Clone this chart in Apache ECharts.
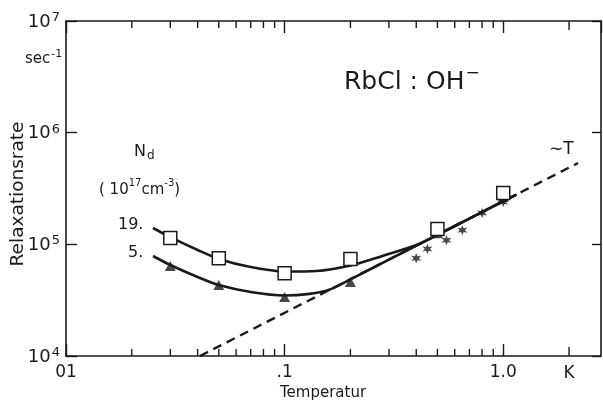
<!DOCTYPE html>
<html><head><meta charset="utf-8">
<script src="https://cdn.jsdelivr.net/npm/echarts@6/dist/echarts.min.js"></script>
<style>html,body{margin:0;padding:0;background:#fff}#c{width:603px;height:401px}</style>
</head><body><div id="c"></div>
<script>
// ---- data ----
const squareT = [0.03, 0.05, 0.1, 0.2, 0.5, 1.0];          // N_d = 19
const squareR = [1.14e5, 7.5e4, 5.5e4, 7.4e4, 1.37e5, 2.88e5];
const triT = [0.03, 0.05, 0.1, 0.2, 0.5, 1.0];             // N_d = 5
const triR = [6.4e4, 4.33e4, 3.38e4, 4.6e4, 1.26e5, 2.65e5];
const starT = [0.4, 0.45, 0.55, 0.65, 0.8, 1.0];
const starR = [7.5e4, 9.1e4, 1.09e5, 1.34e5, 1.91e5, 2.39e5];
const curve19T = [0.025, 0.03, 0.04, 0.05, 0.07, 0.1, 0.14, 0.2, 0.28, 0.4, 0.5, 0.7, 1.0, 1.15];
const curve19R = [1.40e5, 1.16e5, 8.9e4, 7.4e4, 6.26e4, 5.71e4, 5.77e4, 6.46e4, 7.86e4, 9.85e4, 1.215e5, 1.70e5, 2.43e5, 2.79e5];
const curve5T = [0.025, 0.03, 0.04, 0.05, 0.07, 0.1, 0.13, 0.16, 0.2, 0.3, 0.5, 0.7, 1.0, 1.15];
const curve5R = [7.86e4, 6.53e4, 5.1e4, 4.32e4, 3.74e4, 3.48e4, 3.6e4, 3.92e4, 4.86e4, 7.29e4, 1.215e5, 1.70e5, 2.43e5, 2.79e5];
const lawT = [0.041, 2.2];     // ~T line
const lawR = [1.0e4, 5.35e5];
const xMin = 0.01, xMax = 2.8, yMin = 1e4, yMax = 1e7;
const minorTicksX = [0.02,0.03,0.04,0.05,0.06,0.07,0.08,0.09,0.2,0.3,0.4,0.5,0.6,0.7,0.8,0.9,2.0];
const xTickText = {'-2':'01', '-1':'.1', '0':'1.0'};
const kTickValue = 2.0, kTickText = 'K';

const zip = (a, b) => a.map((v, i) => [v, b[i]]);
const FONT = '"DejaVu Sans", sans-serif';
const INK = '#1a1a1a';

function starPath() {
  let p = '';
  for (let i = 0; i < 12; i++) {
    const r = i % 2 === 0 ? 10 : 4.5;
    const a = Math.PI / 2 + i * Math.PI / 6;
    p += (i === 0 ? 'M' : 'L') + (r * Math.cos(a)).toFixed(2) + ' ' + (-r * Math.sin(a)).toFixed(2) + ' ';
  }
  return 'path://' + p + 'Z';
}

const chart = echarts.init(document.getElementById('c'));
const axisLine = {show: true, lineStyle: {color: INK, width: 1.6}};
const tick = len => ({show: true, inside: true, length: len, lineStyle: {color: INK, width: 1.4}});
chart.setOption({
  backgroundColor: '#fff',
  animation: false,
  grid: {left: 66, right: 2, top: 21, bottom: 45, containLabel: false},
  xAxis: [{
    type: 'log', logBase: 10, min: xMin, max: xMax, position: 'bottom',
    axisLine, splitLine: {show: false}, axisTick: tick(12),
    axisLabel: {
      fontFamily: FONT, fontSize: 17, color: INK, margin: 8, showMaxLabel: false,
      formatter: v => { const e = Math.round(Math.log10(v)); return Math.abs(Math.log10(v) - e) < 1e-6 ? (xTickText[e] || '') : ''; }
    }
  }, {
    type: 'log', logBase: 10, min: xMin, max: xMax, position: 'top',
    axisLine, splitLine: {show: false}, axisTick: tick(12),
    axisLabel: {show: false}
  }],
  yAxis: [{
    type: 'log', logBase: 10, min: yMin, max: yMax, position: 'left',
    axisLine, splitLine: {show: false}, axisTick: tick(11),
    axisLabel: {
      margin: 6,
      formatter: v => '{b|10}{s|' + Math.round(Math.log10(v)) + '}',
      rich: {
        b: {fontFamily: FONT, fontSize: 18, color: INK, verticalAlign: 'bottom', lineHeight: 20},
        s: {fontFamily: FONT, fontSize: 13, color: INK, verticalAlign: 'top', padding: [0, 0, 10, 1], lineHeight: 20}
      }
    }
  }, {
    type: 'log', logBase: 10, min: yMin, max: yMax, position: 'right',
    axisLine, splitLine: {show: false}, axisTick: tick(9),
    axisLabel: {show: false}
  }],
  series: [
    {
      type: 'line', name: '~T', data: zip(lawT, lawR), symbol: 'none', z: 2,
      lineStyle: {color: INK, width: 2.4, type: [9, 6]}
    },
    {
      type: 'line', name: 'curve19', data: zip(curve19T, curve19R), symbol: 'none', z: 3,
      smooth: 0.3, lineStyle: {color: INK, width: 2.6}
    },
    {
      type: 'line', name: 'curve5', data: zip(curve5T, curve5R), symbol: 'none', z: 3,
      smooth: 0.3, lineStyle: {color: INK, width: 2.6}
    },
    {
      type: 'scatter', name: 'stars', data: zip(starT, starR), z: 4,
      symbol: starPath(), symbolSize: 10, itemStyle: {color: INK}
    },
    {
      type: 'scatter', name: 'triangles', data: zip(triT, triR), z: 5,
      symbol: 'triangle', symbolSize: [11, 10], itemStyle: {color: INK}
    },
    {
      type: 'scatter', name: 'squares', data: zip(squareT, squareR), z: 6,
      symbol: 'rect', symbolSize: 13, itemStyle: {color: '#fff', borderColor: INK, borderWidth: 1.5, opacity: 1}
    }
  ]
});

// minor ticks (bottom and top), placed through the x-axis scale
const g = [];
minorTicksX.forEach(t => {
  const pb = chart.convertToPixel({xAxisIndex: 0, yAxisIndex: 0}, [t, yMin]);
  const pt = chart.convertToPixel({xAxisIndex: 0, yAxisIndex: 0}, [t, yMax]);
  const len = t === kTickValue ? 9 : 7;
  g.push({type: 'rect', silent: true, z: 100, shape: {x: pb[0] - 0.7, y: pb[1] - len, width: 1.4, height: len}, style: {fill: INK}});
  g.push({type: 'rect', silent: true, z: 100, shape: {x: pt[0] - 0.7, y: pt[1], width: 1.4, height: len}, style: {fill: INK}});
});
const kPos = chart.convertToPixel({xAxisIndex: 0, yAxisIndex: 0}, [kTickValue, yMin]);
const txt = (x, y, text, size, extra) => ({
  type: 'text', x, y, silent: true,
  style: Object.assign({text, fontFamily: FONT, fontSize: size, fill: INK}, extra || {})
});
g.push(
  txt(kPos[0], kPos[1] + 9, kTickText, 17, {align: 'center', verticalAlign: 'top'}),
  txt(323, 393, 'Temperatur', 15, {align: 'center', verticalAlign: 'middle'}),
  {type: 'text', x: 18, y: 194, rotation: Math.PI / 2, silent: true,
   style: {text: 'Relaxationsrate', fontFamily: FONT, fontSize: 18.5, fill: INK, align: 'center', verticalAlign: 'middle'}},
  {type: 'text', x: 25, y: 49, silent: true,
   style: {text: '{a|sec}{s|-1}', fill: INK,
     rich: {a: {fontFamily: FONT, fontSize: 15, fill: INK, verticalAlign: 'bottom', lineHeight: 18},
            s: {fontFamily: FONT, fontSize: 11, fill: INK, verticalAlign: 'top', padding: [0, 0, 8, 1], lineHeight: 18}}}},
  {type: 'text', x: 344, y: 65, silent: true,
   style: {text: '{a|RbCl : OH}{s|−}', fill: INK,
     rich: {a: {fontFamily: FONT, fontSize: 25, fill: INK, verticalAlign: 'bottom', lineHeight: 30},
            s: {fontFamily: FONT, fontSize: 17, fill: INK, verticalAlign: 'top', padding: [0, 0, 18, 1], lineHeight: 30}}}},
  {type: 'text', x: 134, y: 142, silent: true,
   style: {text: '{a|N}{s|d}', fill: INK,
     rich: {a: {fontFamily: FONT, fontSize: 16, fill: INK, lineHeight: 20},
            s: {fontFamily: FONT, fontSize: 12, fill: INK, padding: [8, 0, 0, 1], lineHeight: 20}}}},
  {type: 'text', x: 99, y: 178, silent: true,
   style: {text: '{a|( 10}{s|17}{a|cm}{s|-3}{a|)}', fill: INK,
     rich: {a: {fontFamily: FONT, fontSize: 15, fill: INK, verticalAlign: 'bottom', lineHeight: 20},
            s: {fontFamily: FONT, fontSize: 10, fill: INK, verticalAlign: 'top', padding: [0, 0, 9, 0], lineHeight: 20}}}},
  txt(118, 225, '19.', 16, {verticalAlign: 'middle'}),
  txt(128, 253, '5.', 16, {verticalAlign: 'middle'}),
  txt(549, 150, '∼T', 17, {verticalAlign: 'middle'})
);
chart.setOption({graphic: g});
</script></body></html>
